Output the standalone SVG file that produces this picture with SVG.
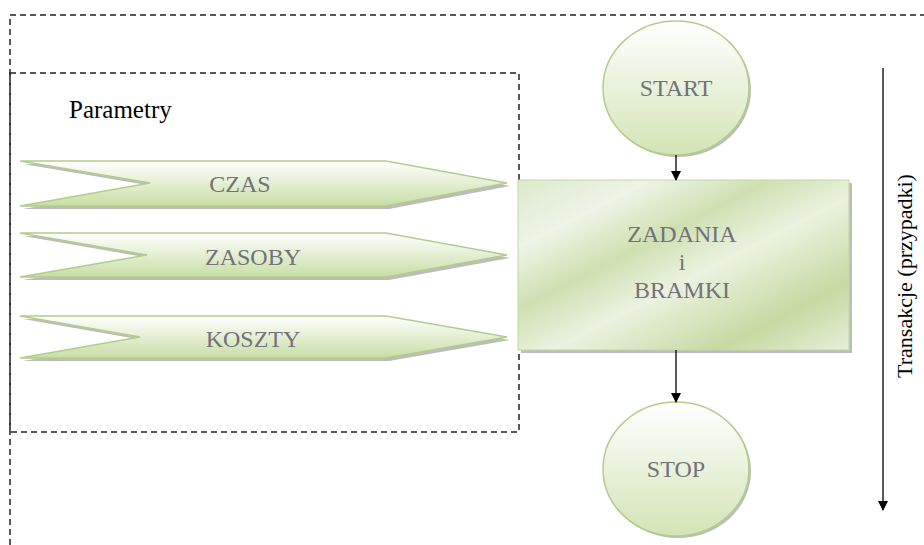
<svg xmlns="http://www.w3.org/2000/svg" width="924" height="545" viewBox="0 0 924 545">
<style>
.dash{fill:none;stroke:#222;stroke-width:1.5;stroke-dasharray:6 4}
.serif{font-family:'Liberation Serif','DejaVu Serif',serif}
.lbl{font-size:24px;fill:#72727a;text-anchor:middle}
.shape{stroke:#b2cd8b;stroke-width:1.5}
.shadow{fill:#8f8f8f;opacity:0.6}
.conn{stroke:#000;stroke-width:1.3;fill:none}
</style>
<defs>
<linearGradient id="gv" x1="0" y1="0" x2="0" y2="1">
<stop offset="0" stop-color="#ffffff"/>
<stop offset="1" stop-color="#c8dea5"/>
</linearGradient>
<linearGradient id="gc" x1="0" y1="0" x2="0" y2="1">
<stop offset="0" stop-color="#ffffff"/>
<stop offset="1" stop-color="#d3e4b6"/>
</linearGradient>
<linearGradient id="gr" x1="0" y1="0" x2="1" y2="1">
<stop offset="0" stop-color="#dde9cc"/>
<stop offset="0.2" stop-color="#eef4e6"/>
<stop offset="0.38" stop-color="#cfe0b2"/>
<stop offset="0.55" stop-color="#ebf2e0"/>
<stop offset="0.8" stop-color="#c6daa2"/>
<stop offset="1" stop-color="#e6efd8"/>
</linearGradient>
<marker id="ah" markerWidth="10" markerHeight="10" refX="9" refY="5" orient="auto" markerUnits="userSpaceOnUse">
<path d="M0,0 L10,5 L0,10 Z" fill="#000"/>
</marker>
</defs>

<g id="frames">
<path class="dash" d="M10,545 L10,15 L924,15"/>
<rect class="dash" x="10" y="73" width="509" height="359"/>
</g>

<text id="parametry" class="serif" x="69" y="118" font-size="25" fill="#000">Parametry</text>

<g id="czas">
<path class="shadow" d="M23,164 L389,164 L510,186 L389,209 L23,209 L153,186 Z"/>
<path class="shape" fill="url(#gv)" d="M20,161 L386,161 L507,183 L386,206 L20,206 L150,183 Z"/>
<text class="serif lbl" x="240" y="192">CZAS</text>
</g>
<g id="zasoby">
<path class="shadow" d="M23,236 L389,236 L510,258 L389,280 L23,280 L150,258 Z"/>
<path class="shape" fill="url(#gv)" d="M20,233 L386,233 L507,255 L386,277 L20,277 L147,255 Z"/>
<text class="serif lbl" x="253" y="265">ZASOBY</text>
</g>
<g id="koszty">
<path class="shadow" d="M23,319 L389,319 L510,340 L389,361 L23,361 L143,340 Z"/>
<path class="shape" fill="url(#gv)" d="M20,316 L386,316 L507,337 L386,358 L20,358 L140,337 Z"/>
<text class="serif lbl" x="253" y="347">KOSZTY</text>
</g>

<g id="start">
<ellipse class="shadow" cx="678" cy="90" rx="73" ry="67"/>
<ellipse class="shape" fill="url(#gc)" cx="676" cy="88" rx="73" ry="67"/>
<text class="serif lbl" x="676" y="96">START</text>
</g>

<g id="zadania">
<rect class="shadow" x="521" y="183" width="331" height="170"/>
<rect x="518" y="180" width="331" height="170" fill="url(#gr)" stroke="#c3d8a0" stroke-width="1"/>
<text class="serif lbl" x="682" y="242">ZADANIA</text>
<text class="serif lbl" x="682" y="270">i</text>
<text class="serif lbl" x="682" y="298">BRAMKI</text>
</g>

<g id="stop">
<ellipse class="shadow" cx="678" cy="471" rx="73" ry="67"/>
<ellipse class="shape" fill="url(#gc)" cx="676" cy="469" rx="73" ry="67"/>
<text class="serif lbl" x="676" y="477">STOP</text>
</g>

<g id="connectors">
<line class="conn" x1="676" y1="155" x2="676" y2="180" marker-end="url(#ah)"/>
<line class="conn" x1="676" y1="350" x2="676" y2="402" marker-end="url(#ah)"/>
<line class="conn" x1="883" y1="68" x2="883" y2="510" marker-end="url(#ah)"/>
</g>

<text id="transakcje" class="serif" x="0" y="0" transform="translate(912,276) rotate(-90)" font-size="22" fill="#000" text-anchor="middle">Transakcje (przypadki)</text>
</svg>
